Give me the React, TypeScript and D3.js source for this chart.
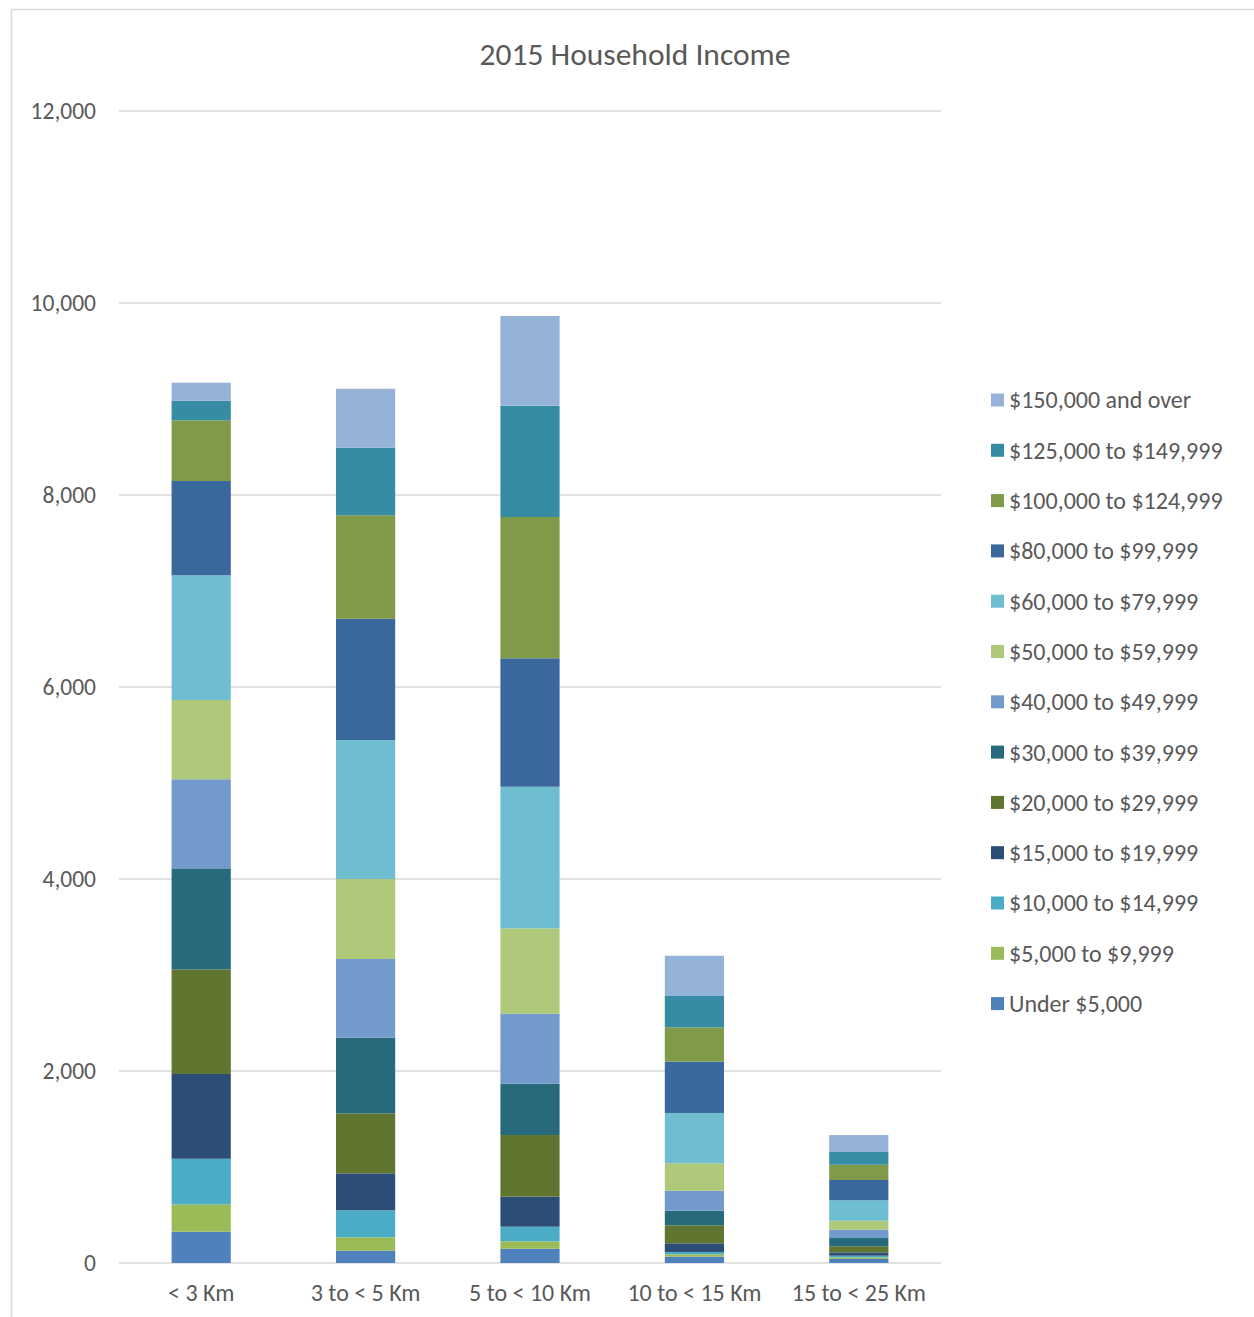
import React from "react";
import * as d3 from "d3";

const categories = ["< 3 Km", "3 to < 5 Km", "5 to < 10 Km", "10 to < 15 Km", "15 to < 25 Km"];

const seriesNames = [
  "Under $5,000",
  "$5,000 to $9,999",
  "$10,000 to $14,999",
  "$15,000 to $19,999",
  "$20,000 to $29,999",
  "$30,000 to $39,999",
  "$40,000 to $49,999",
  "$50,000 to $59,999",
  "$60,000 to $79,999",
  "$80,000 to $99,999",
  "$100,000 to $124,999",
  "$125,000 to $149,999",
  "$150,000 and over",
];

const seriesColors = [
  "#4f81bd", "#9bbb59", "#4bacc6", "#2c4d75", "#5f7530", "#276a7c",
  "#729aca", "#afc97a", "#6fbdd1", "#3a679c", "#7f9a48", "#358ca3", "#95b3d7",
];

// values per series, in category order
const under5k = [326, 128, 149, 66, 42];
const s5k = [285, 140, 77, 25, 17];
const s10k = [475, 281, 152, 24, 17];
const s15k = [883, 385, 313, 90, 35];
const s20k = [1090, 625, 642, 188, 63];
const s30k = [1052, 788, 535, 152, 86];
const s40k = [928, 820, 729, 208, 87];
const s50k = [826, 833, 889, 286, 94];
const s60k = [1299, 1448, 1475, 524, 212];
const s80k = [982, 1263, 1338, 534, 212];
const s100k = [632, 1078, 1472, 358, 159];
const s125k = [204, 704, 1159, 326, 132];
const s150k = [188, 614, 935, 420, 177];

const seriesValues = [under5k, s5k, s10k, s15k, s20k, s30k, s40k, s50k, s60k, s80k, s100k, s125k, s150k];

const yTicks = [0, 2000, 4000, 6000, 8000, 10000, 12000];

const FONT = "Carlito, Calibri, Lato, 'Open Sans', sans-serif";

export default function App() {
  const W = 1254, H = 1317;
  const left = 119, right = 941, top = 111, bottom = 1263;

  const x = d3.scaleBand<string>().domain(categories).range([left, right]).paddingInner(0.64).paddingOuter(0.32);
  const y = d3.scaleLinear().domain([0, 12000]).range([bottom, top]);

  const table = categories.map((c, i) => {
    const row: any = { cat: c };
    seriesNames.forEach((s, j) => (row[s] = seriesValues[j][i]));
    return row;
  });
  const stacked = d3.stack().keys(seriesNames)(table);
  const fmt = d3.format(",");

  const legendTop = 400, legendStep = 50.3;
  const legendOrder = seriesNames.map((_, i) => seriesNames.length - 1 - i);

  return (
    <svg width={W} height={H} style={{ position: "absolute", left: 0, top: 0, background: "#fff" }}>
      <rect x={11.5} y={9.5} width={W} height={H} fill="#fff" stroke="#d9d9d9" strokeWidth={1.5} />
      <text x={635} y={54} dy="0.35em" textAnchor="middle" fontFamily={FONT} fontSize={31.5} fill="#595959">
        2015 Household Income
      </text>
      {yTicks.map((t) => (
        <g key={t}>
          <line x1={left} x2={right} y1={y(t)} y2={y(t)} stroke="#d9d9d9" strokeWidth={1.5} />
          <text x={96} y={y(t)} dy="0.36em" textAnchor="end" fontFamily={FONT} fontSize={23.5} fill="#595959">
            {fmt(t)}
          </text>
        </g>
      ))}
      {stacked.map((layer, j) => (
        <g key={layer.key} fill={seriesColors[j]}>
          {layer.map((d, i) => (
            <rect
              key={i}
              x={x(categories[i])}
              width={x.bandwidth()}
              y={y(d[1])}
              height={Math.max(0, y(d[0]) - y(d[1]))}
            />
          ))}
        </g>
      ))}
      {categories.map((c) => (
        <text key={c} x={(x(c) as number) + x.bandwidth() / 2} y={1292} dy="0.36em" textAnchor="middle" fontFamily={FONT} fontSize={24} fill="#595959">
          {c}
        </text>
      ))}
      {legendOrder.map((si, k) => (
        <g key={si} transform={`translate(991, ${legendTop + k * legendStep})`}>
          <rect x={0} y={-6.5} width={13} height={13} fill={seriesColors[si]} />
          <text x={18} y={0} dy="0.35em" fontFamily={FONT} fontSize={24} fill="#595959">
            {seriesNames[si]}
          </text>
        </g>
      ))}
    </svg>
  );
}
